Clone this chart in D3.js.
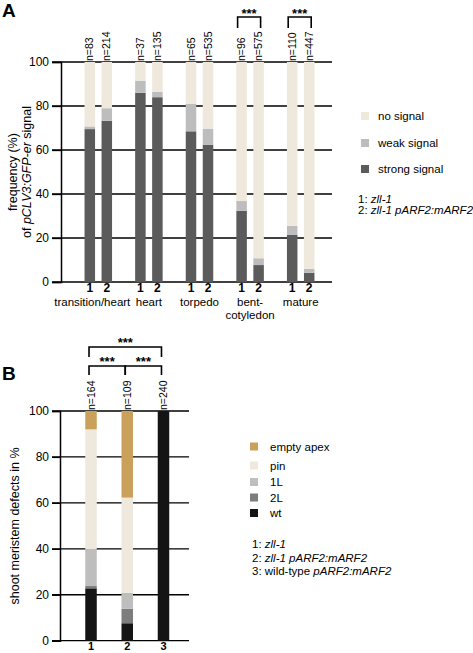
<!DOCTYPE html>
<html><head><meta charset="utf-8">
<script src="https://cdn.jsdelivr.net/npm/d3@7"></script>
<style>
body{margin:0;background:#fff;}
text{font-family:"Liberation Sans",Arial,sans-serif;fill:#000;}
</style></head>
<body><svg id="c" width="473" height="653"></svg>
<script>
// ---------- Panel A data ----------
const stages = ["transition/heart","heart","torpedo","bent-cotyledon","mature"];
const genotypesA = ["1","2"];
const strongA = [69.5, 73.3, 86.0, 84.0, 68.5, 62.4, 32.4, 7.7, 21.5, 4.2];
const weakA   = [1.2, 5.7, 5.5, 2.5, 12.5, 7.3, 4.4, 3.1, 4.0, 1.8];
const nA      = [83, 214, 37, 135, 65, 535, 96, 575, 110, 447];
const signalKeys = ["strong signal","weak signal","no signal"];
const sigPairsA = [[3,"***"],[4,"***"]]; // stage index with significance
const yTicks = [0,20,40,60,80,100];

// ---------- Panel B data ----------
const genotypesB = ["1","2","3"];
const wtB    = [22.8, 7.6, 100];
const twoLB  = [1.0, 6.3, 0];
const oneLB  = [16.1, 6.9, 0];
const pinB   = [52.1, 41.5, 0];
const emptyB = [8.0, 37.7, 0];
const nB     = [164, 109, 240];
const defectKeys = ["wt","2L","1L","pin","empty apex"];
const sigPairsB = [["1","3",0],["1","2",1],["2","3",1]];

const colA = {"strong signal":"#5b5b5b","weak signal":"#bdbdbd","no signal":"#efe8dc"};
const colB = {"wt":"#141414","2L":"#7d7d7d","1L":"#bebebe","pin":"#efe8dc","empty apex":"#c9a15a"};

const svg = d3.select("#c");

// ================= PANEL A =================
const yA = d3.scaleLinear().domain([0,100]).range([282,62]);
const xA = d3.scaleBand().domain(stages).range([73,326]);
const xA2 = d3.scalePoint().domain(genotypesA).range([xA.bandwidth()/2-8.5, xA.bandwidth()/2+8.5]);
const bwA = 10.5;
const gA = svg.append("g");

// grid + ticks
gA.selectAll("line.grid").data(yTicks).join("line")
  .attr("x1",52).attr("x2",332).attr("y1",d=>yA(d)).attr("y2",d=>yA(d))
  .attr("stroke","#000").attr("stroke-width",1.3);
gA.append("g").attr("transform","translate(61,0)")
  .call(d3.axisLeft(yA).tickValues(yTicks).tickSize(9).tickPadding(3))
  .call(g=>{g.select(".domain").attr("stroke-width",1.5);
    g.selectAll(".tick line").attr("stroke-width",1.3);
    g.selectAll("text").attr("font-size",12).attr("font-family","Liberation Sans, Arial");});

// bars
const barsA = [];
stages.forEach((s,i)=>genotypesA.forEach((gname,j)=>{
  const k=i*2+j; let y0=0;
  const vals={"strong signal":strongA[k],"weak signal":weakA[k],"no signal":100-strongA[k]-weakA[k]};
  signalKeys.forEach(key=>{barsA.push({x:xA(s)+xA2(gname),y0:y0,y1:y0+vals[key],key:key}); y0+=vals[key];});
}));
gA.selectAll("rect.bar").data(barsA).join("rect")
  .attr("x",d=>d.x-bwA/2).attr("width",bwA)
  .attr("y",d=>yA(d.y1)).attr("height",d=>yA(d.y0)-yA(d.y1))
  .attr("fill",d=>colA[d.key]);

// n labels
stages.forEach((s,i)=>genotypesA.forEach((gname,j)=>{
  const cx=xA(s)+xA2(gname);
  gA.append("text").attr("transform",`translate(${cx+3.5},${yA(100)-1}) rotate(-90)`)
    .attr("font-size",10.5).text("n="+nA[i*2+j]);
  gA.append("text").attr("x",cx).attr("y",292).attr("text-anchor","middle")
    .attr("font-size",12).attr("font-weight","bold").text(gname);
}));
// stage labels (first label sits slightly left in the original)
stages.forEach((s,i)=>{
  const cx = xA(s)+xA.bandwidth()/2 + (i===0?-6:0);
  const t=gA.append("text").attr("x",cx).attr("y",306)
    .attr("text-anchor","middle").attr("font-size",11.5);
  if(s.indexOf("-")>0){
    const parts=s.split("-");
    t.append("tspan").attr("x",cx).text(parts[0]+"-");
    t.append("tspan").attr("x",cx).attr("dy",13).text(parts[1]);
  } else t.text(s);
});
// significance A
sigPairsA.forEach(([si,lab])=>{
  const s=stages[si];
  const xl=xA(s)+xA2("1")-4, xr=xA(s)+xA2("2")+2;
  gA.append("path").attr("d",`M${xl},28V17H${xr}V28`).attr("fill","none")
    .attr("stroke","#000").attr("stroke-width",1.6);
  gA.append("text").attr("x",(xl+xr)/2).attr("y",18).attr("text-anchor","middle")
    .attr("font-size",13).attr("font-weight","bold").text(lab);
});
// y title A
const tA=gA.append("text").attr("transform","translate(17,172) rotate(-90)")
  .attr("text-anchor","middle").attr("font-size",12.5);
tA.append("tspan").attr("x",0).text("frequency (%)");
const t2=tA.append("tspan").attr("x",0).attr("dy",13.5);
t2.append("tspan").text("of ");
t2.append("tspan").attr("font-style","italic").text("pCLV3:GFP-er");
t2.append("tspan").text(" signal");
// panel letter
svg.append("text").attr("x",2).attr("y",17).attr("font-size",19).attr("font-weight","bold").text("A");

// legend A
const legA=["no signal","weak signal","strong signal"];
const legAy=[116,143,169];
legA.forEach((k,i)=>{
  gA.append("rect").attr("x",361).attr("y",legAy[i]-4).attr("width",8).attr("height",8).attr("fill",colA[k]);
  gA.append("text").attr("x",378).attr("y",legAy[i]+4).attr("font-size",11.5).text(k);
});
const noteA=[[["1: ",0],["zll-1",1]],[["2: ",0],["zll-1 pARF2:mARF2",1]]];
noteA.forEach((parts,i)=>{
  const t=gA.append("text").attr("x",358).attr("y",203+i*11).attr("font-size",11.5);
  parts.forEach(([s,it])=>t.append("tspan").attr("font-style",it?"italic":"normal").text(s));
});

// ================= PANEL B =================
const yB = d3.scaleLinear().domain([0,100]).range([640.7,411]);
const xB = d3.scaleBand().domain(genotypesB).range([72.9,181.6]);
const bwB = 11.5;
const gB = svg.append("g");
gB.selectAll("line.grid").data(yTicks).join("line")
  .attr("x1",52).attr("x2",189).attr("y1",d=>yB(d)).attr("y2",d=>yB(d))
  .attr("stroke","#000").attr("stroke-width",1.3);
gB.append("g").attr("transform","translate(60,0)")
  .call(d3.axisLeft(yB).tickValues(yTicks).tickSize(8).tickPadding(3))
  .call(g=>{g.select(".domain").attr("stroke-width",1.5);
    g.selectAll(".tick line").attr("stroke-width",1.3);
    g.selectAll("text").attr("font-size",12).attr("font-family","Liberation Sans, Arial");});
const barsB=[];
genotypesB.forEach((gname,i)=>{
  const vals={"wt":wtB[i],"2L":twoLB[i],"1L":oneLB[i],"pin":pinB[i],"empty apex":emptyB[i]};
  let y0=0;
  defectKeys.forEach(k=>{barsB.push({x:xB(gname)+xB.bandwidth()/2,y0:y0,y1:y0+vals[k],key:k}); y0+=vals[k];});
});
gB.selectAll("rect.bar").data(barsB.filter(d=>d.y1>d.y0)).join("rect")
  .attr("x",d=>d.x-bwB/2).attr("width",bwB)
  .attr("y",d=>yB(d.y1)).attr("height",d=>yB(d.y0)-yB(d.y1))
  .attr("fill",d=>colB[d.key]);
genotypesB.forEach((gname,i)=>{
  const cx=xB(gname)+xB.bandwidth()/2;
  gB.append("text").attr("transform",`translate(${cx+3.5},${yB(100)-1}) rotate(-90)`)
    .attr("font-size",10.5).text("n="+nB[i]);
  gB.append("text").attr("x",cx).attr("y",650).attr("text-anchor","middle")
    .attr("font-size",11).attr("font-weight","bold").text(gname);
});
// significance B
sigPairsB.forEach(([a,b,lvl])=>{
  const xl=xB(a)+xB.bandwidth()/2-2, xr=xB(b)+xB.bandwidth()/2-2;
  const top = lvl===0?347:366, bot = lvl===0?357:375;
  gB.append("path").attr("d",`M${xl},${bot}V${top}H${xr}V${bot}`).attr("fill","none")
    .attr("stroke","#000").attr("stroke-width",1.6);
  gB.append("text").attr("x",(xl+xr)/2).attr("y",top-0.5).attr("text-anchor","middle")
    .attr("font-size",13).attr("font-weight","bold").text("***");
});
gB.append("text").attr("transform","translate(19,526) rotate(-90)")
  .attr("text-anchor","middle").attr("font-size",12.5).text("shoot meristem defects in %");
svg.append("text").attr("x",2).attr("y",380).attr("font-size",19).attr("font-weight","bold").text("B");

const legB=["empty apex","pin","1L","2L","wt"];
const legBy=[446.5,465.5,482,497.5,513];
legB.forEach((k,i)=>{
  gB.append("rect").attr("x",250).attr("y",legBy[i]-4).attr("width",8).attr("height",8).attr("fill",colB[k]);
  gB.append("text").attr("x",270).attr("y",legBy[i]+4).attr("font-size",11.5).text(k);
});
const noteB=[[["1: ",0],["zll-1",1]],[["2: ",0],["zll-1 pARF2:mARF2",1]],[["3: wild-type ",0],["pARF2:mARF2",1]]];
noteB.forEach((parts,i)=>{
  const t=gB.append("text").attr("x",252).attr("y",548+i*13.5).attr("font-size",11.5);
  parts.forEach(([s,it])=>t.append("tspan").attr("font-style",it?"italic":"normal").text(s));
});
</script></body></html>
